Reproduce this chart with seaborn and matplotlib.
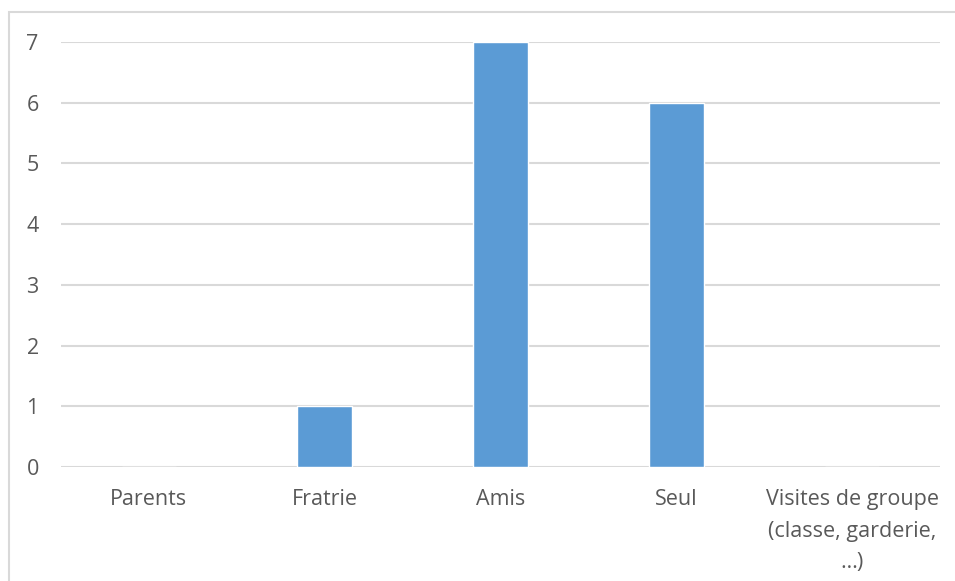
import matplotlib
matplotlib.use("Agg")
import matplotlib.pyplot as plt
import seaborn as sns
import pandas as pd
from matplotlib.patches import Rectangle

# valeurs
categories = ["Parents", "Fratrie", "Amis", "Seul",
              "Visites de groupe\n(classe, garderie,\n…)"]
valeurs = [0, 1, 7, 6, 0]

df = pd.DataFrame({"cat": categories, "val": valeurs})

sns.set_theme(style="white")
plt.rcParams["font.family"] = ["Open Sans", "DejaVu Sans"]

fig = plt.figure(figsize=(9.55, 5.81), dpi=100)
ax = fig.add_axes([61/955, 1 - 467/581, 879/955, 425/581])

sns.barplot(data=df, x="cat", y="val", color="#5B9BD5", saturation=1,
            width=0.31, ax=ax, zorder=3)

ax.set_ylim(0, 7)
ax.set_yticks(range(0, 8))
ax.set_xlim(-0.5, 4.5)
ax.grid(axis="y", color="#D9D9D9", linewidth=1.5, zorder=0)
ax.set_axisbelow(True)
for s in ax.spines.values():
    s.set_visible(False)
ax.set_xlabel("")
ax.set_ylabel("")
ax.tick_params(axis="y", length=0, pad=16, labelsize=15.5, labelcolor="#595959")
ax.tick_params(axis="x", length=0, pad=16, labelsize=15.5, labelcolor="#595959")
for lab in ax.get_yticklabels():
    lab.set_horizontalalignment("right")
for lab in ax.get_xticklabels():
    lab.set_multialignment("center")
    lab.set_linespacing(1.65)

# cadre du graphique
fig.add_artist(Rectangle((9/955, -0.05), 1.05, 1.05 - 12/581,
                         transform=fig.transFigure, fill=False,
                         edgecolor="#D9D9D9", linewidth=1.5))

fig.savefig("out.png", dpi=100)
